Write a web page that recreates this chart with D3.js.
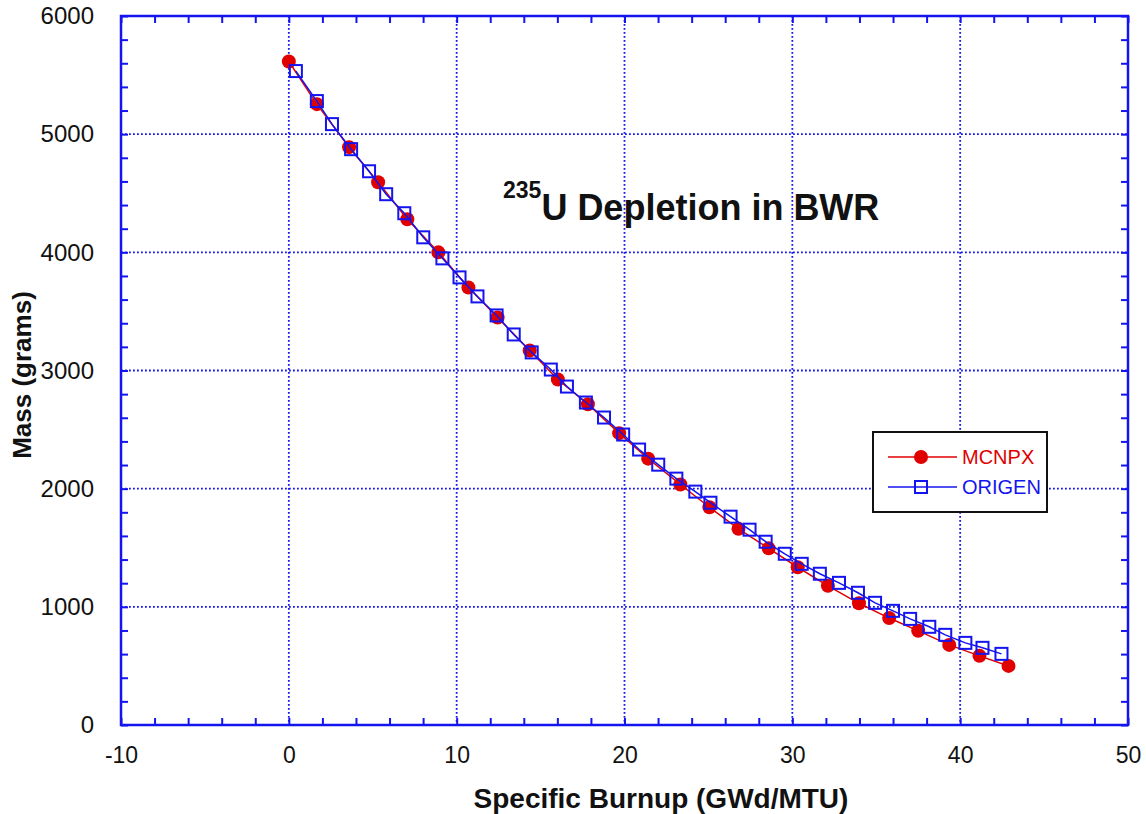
<!DOCTYPE html>
<html><head><meta charset="utf-8">
<script src="https://cdn.jsdelivr.net/npm/d3@7"></script>
<style>
html,body{margin:0;padding:0;background:#fff;}
svg{display:block;font-family:Arial,"Liberation Sans",sans-serif;}
</style></head>
<body><svg id="c" width="1146" height="814"></svg>
<script>
// Data
const mcnpxBurnup = [0, 1.67, 3.59, 5.32, 7.06, 8.91, 10.7, 12.44, 14.35, 16.03, 17.82, 19.68, 21.41, 23.33, 25.06, 26.79, 28.59, 30.32, 32.12, 33.97, 35.77, 37.5, 39.35, 41.15, 42.88];
const mcnpxMass   = [5615, 5254, 4890, 4593, 4280, 4000, 3703, 3449, 3169, 2924, 2715, 2470, 2254, 2035, 1843, 1660, 1495, 1335, 1178, 1030, 905, 797, 678, 585, 500];
const origenBurnup = [0.42, 1.67, 2.57, 3.71, 4.78, 5.80, 6.88, 8.01, 9.15, 10.17, 11.24, 12.38, 13.40, 14.47, 15.61, 16.57, 17.70, 18.78, 19.92, 20.87, 22.01, 23.09, 24.22, 25.12, 26.32, 27.45, 28.41, 29.55, 30.56, 31.64, 32.78, 33.91, 34.93, 36.00, 37.02, 38.16, 39.11, 40.31, 41.33, 42.46];
const origenMass   = [5534, 5280, 5085, 4873, 4686, 4492, 4331, 4127, 3949, 3788, 3627, 3466, 3305, 3153, 3008, 2864, 2729, 2602, 2458, 2331, 2203, 2085, 1975, 1881, 1763, 1653, 1551, 1449, 1364, 1280, 1203, 1119, 1034, 966, 898, 831, 763, 695, 653, 602];
const xTicks = [-10, 0, 10, 20, 30, 40, 50];
const yTicks = [0, 1000, 2000, 3000, 4000, 5000, 6000];
const seriesNames = ["MCNPX", "ORIGEN"];
const titleSup = "235";
const titleMain = "U Depletion in BWR";
const xTitle = "Specific Burnup (GWd/MTU)";
const yTitle = "Mass (grams)";

const svg = d3.select("#c");
const L = 121, R = 1128, T = 16, B = 725;
const x = d3.scaleLinear().domain([-10, 50]).range([L, R]);
const y = d3.scaleLinear().domain([0, 6000]).range([B, T]);
const blue = "#1414f0", red = "#e00000";

// grid
const grid = svg.append("g");
grid.selectAll(".gx").data(xTicks.slice(1, -1)).join("line")
  .attr("x1", d => x(d)).attr("x2", d => x(d)).attr("y1", T).attr("y2", B)
  .attr("stroke", blue).attr("stroke-width", 1.8).attr("stroke-dasharray", "1.8,2.2");
grid.selectAll(".gy").data(yTicks.slice(1, -1)).join("line")
  .attr("y1", d => y(d)).attr("y2", d => y(d)).attr("x1", L).attr("x2", R)
  .attr("stroke", blue).attr("stroke-width", 1.8).attr("stroke-dasharray", "1.8,2.2");

// axes with inward ticks
const minorX = d3.range(-10, 50.01, 2);
const minorY = d3.range(0, 6000.1, 200);
function styleAxis(g) {
  g.select(".domain").remove();
  g.selectAll("line").attr("stroke", blue).attr("stroke-width", 2);
  g.selectAll("text").remove();
}
svg.append("g").attr("transform", `translate(0,${B})`)
  .call(d3.axisBottom(x).tickValues(minorX).tickSizeInner(-7).tickSizeOuter(0)).call(styleAxis);
svg.append("g").attr("transform", `translate(0,${T})`)
  .call(d3.axisTop(x).tickValues(minorX).tickSizeInner(-7).tickSizeOuter(0)).call(styleAxis);
svg.append("g").attr("transform", `translate(${L},0)`)
  .call(d3.axisLeft(y).tickValues(minorY).tickSizeInner(-7).tickSizeOuter(0)).call(styleAxis);
svg.append("g").attr("transform", `translate(${R},0)`)
  .call(d3.axisRight(y).tickValues(minorY).tickSizeInner(-7).tickSizeOuter(0)).call(styleAxis);
svg.append("rect").attr("x", L).attr("y", T).attr("width", R - L).attr("height", B - T)
  .attr("fill", "none").attr("stroke", blue).attr("stroke-width", 2.5);

// tick labels
const xl = svg.append("g").attr("transform", `translate(0,${B})`)
  .call(d3.axisBottom(x).tickValues(xTicks).tickSize(0).tickPadding(22).tickFormat(d => String(d)));
xl.select(".domain").remove();
xl.selectAll("text").attr("font-size", 23).attr("fill", "#111").attr("font-family", "Arial, 'Liberation Sans', sans-serif");
const yl = svg.append("g").attr("transform", `translate(${L},0)`)
  .call(d3.axisLeft(y).tickValues(yTicks).tickSize(0).tickPadding(27).tickFormat(d => String(d)));
yl.select(".domain").remove();
yl.selectAll("text").attr("font-size", 24).attr("fill", "#111").attr("font-family", "Arial, 'Liberation Sans', sans-serif");

// axis titles
svg.append("text").attr("x", 661).attr("y", 808).attr("text-anchor", "middle")
  .attr("font-size", 28).attr("font-weight", "bold").attr("fill", "#111").text(xTitle);
svg.append("text").attr("transform", "translate(31,375) rotate(-90)").attr("text-anchor", "middle")
  .attr("font-size", 26).attr("font-weight", "bold").attr("fill", "#111").text(yTitle);

// chart title
const tt = svg.append("text").attr("x", 503).attr("y", 220).attr("font-weight", "bold").attr("fill", "#111");
tt.append("tspan").attr("font-size", 23).attr("dy", -22).text(titleSup);
tt.append("tspan").attr("font-size", 36).attr("dy", 22).text(titleMain);

// series
const mc = mcnpxBurnup.map((b, i) => [b, mcnpxMass[i]]);
const og = origenBurnup.map((b, i) => [b, origenMass[i]]);
const line = d3.line().x(d => x(d[0])).y(d => y(d[1]));
svg.append("path").datum(mc).attr("d", line).attr("fill", "none").attr("stroke", red).attr("stroke-width", 1.5);
svg.append("g").selectAll("circle").data(mc).join("circle")
  .attr("cx", d => x(d[0])).attr("cy", d => y(d[1])).attr("r", 7).attr("fill", red);
svg.append("path").datum(og).attr("d", line).attr("fill", "none").attr("stroke", blue).attr("stroke-width", 1.5);
svg.append("g").selectAll("rect").data(og).join("rect")
  .attr("x", d => x(d[0]) - 6).attr("y", d => y(d[1]) - 6).attr("width", 12).attr("height", 12)
  .attr("fill", "none").attr("stroke", blue).attr("stroke-width", 2);

// legend
const lg = svg.append("g");
lg.append("rect").attr("x", 873).attr("y", 432).attr("width", 174).attr("height", 80)
  .attr("fill", "#fff").attr("stroke", "#111").attr("stroke-width", 2);
const rows = [{name: seriesNames[0], c: red, y: 457}, {name: seriesNames[1], c: blue, y: 487}];
rows.forEach((r, i) => {
  lg.append("line").attr("x1", 888).attr("x2", 957).attr("y1", r.y).attr("y2", r.y).attr("stroke", r.c).attr("stroke-width", 1.5);
  if (i === 0) lg.append("circle").attr("cx", 921).attr("cy", r.y).attr("r", 7).attr("fill", red);
  else lg.append("rect").attr("x", 915).attr("y", r.y - 6).attr("width", 12).attr("height", 12).attr("fill", "none").attr("stroke", blue).attr("stroke-width", 2);
  lg.append("text").attr("x", 962).attr("y", r.y + 7).attr("font-size", 20).attr("fill", r.c).text(r.name);
});
</script></body></html>
